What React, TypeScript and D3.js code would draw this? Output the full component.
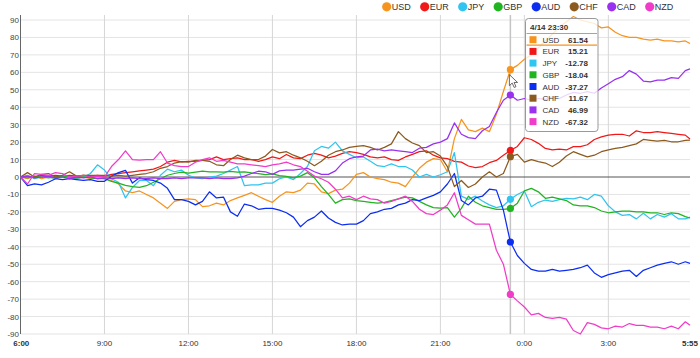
import React, { useMemo } from 'react';
import * as d3 from 'd3';

const currencies = ['USD', 'EUR', 'JPY', 'GBP', 'AUD', 'CHF', 'CAD', 'NZD'];
const colors = ['#f7941d', '#f01818', '#30c4f0', '#20b420', '#0c2ef0', '#8c5a1e', '#9a30f0', '#f03cc8'];

const usd = [
  0, -1, 0.5, -1, 0, -1, 0.5, -0.5, -1, 0, -1, -0.5, -1,
  -2, -4, -8, -9, -8, -10, -12, -15, -18, -14, -13, -12.5,
  -13, -17, -16.5, -15, -16, -13.5, -12, -10.5, -9, -11, -13, -14.5,
  -11, -8.5, -9, -7.5, -3.5, -4, -8.5, -9.5, -7.5, -7, -3.5, 1.5,
  2.5, 0, -1, -1.5, -3, -3.5, -5.5, 0, 5, 8.5, 10.5, 10,
  3, 22, 33, 27, 26, 28, 26, 36, 49, 61.54, 64, 67.5,
  70, 74, 78, 82, 86, 89, 92, 90, 89, 88, 85.5, 86,
  83, 81, 80, 80, 79, 78.5, 79, 78, 78, 77.5, 78, 76.5,
];
const eur = [
  0, 0.5, 0, 1, 0.5, 1, 0.5, 1, 0.5, 1, 0.5, 1, 0.5,
  1.5, 2, 2.5, 3, 3.5, 4, 4.5, 6, 8.5, 9.5, 8.7, 9,
  9, 9.5, 10, 11.5, 10, 10.5, 11, 10, 10, 9, 10, 11.5,
  10.5, 12.9, 11, 10.5, 12.5, 13.5, 12.5, 11, 12, 13.5, 14.5, 14,
  13, 11.5, 11, 11.5, 10, 9.5, 11.5, 13, 14.5, 15, 12.5, 11,
  10.5, 9, 8.5, 6.3, 5.4, 6, 8.2, 9.5, 12.5, 15.21, 17.5, 22.5,
  21.5, 19.3, 16.4, 15.5, 16, 15.5, 17.4, 17.4, 18.5, 21.5, 23, 24,
  24.5, 24.5, 23.5, 26.5, 25.5, 25.5, 26, 25.5, 25, 24.5, 24, 21.8,
];
const jpy = [
  0, 1, -1, 0, 0, -1, 1, 0, -1, 0, 2, 7, 4,
  -1, -3, -12, -6, -2, -2, -5, 1, 4.5, 3, 4, 1,
  -0.5, -1, 0, 0.5, 2, 4, 6, -5, -4.5, -4.5, -3.5, -3.5,
  -1, 0, -1.5, 2, 6, 15, 17.5, 16.5, 20, 15, 13, 11,
  11.5, 9, 6.5, 6, 7.5, 6, 6, 4, 0, 1.5, 0, 1.3,
  3, 14, -11, -12.8, -11, -13.8, -16, -17.6, -16.5, -12.78, -10, -8,
  -17, -14.5, -13.2, -14, -13, -12.2, -12.5, -11.5, -13, -10, -11, -16.5,
  -20, -22, -21.5, -24, -20.8, -24, -21.5, -23, -21, -24, -24, -23,
];
const gbp = [
  0, -0.5, 0.5, 0, -0.5, 0, 0.5, 0, -0.5, 0, -0.5, -1, -1,
  -2.5, -3.5, -4.8, -5.5, -6, -5, -3, -1, 1, 2, 2.8, 2.2,
  2.8, 3.3, 3, 3, 2.8, 3.2, 2.8, 3, 2.3, 2, 1.3, 1.8,
  0.8, 0.4, -0.5, 0.5, 2.5, -0.5, -5.5, -10, -15, -13, -12.5, -13.5,
  -14, -14.5, -15, -14.5, -13.5, -12.5, -11.5, -12, -14, -16, -17.6, -17.9,
  -17.5, -23, -18, -11, -14.5, -16.5, -17.5, -18.5, -18.5, -18.04, -15, -8,
  -6.5, -8.5, -12.2, -11.5, -12.5, -13.5, -16, -16.5, -16.5, -17.5, -19.5, -20.5,
  -20, -19.5, -19.5, -20, -20, -20.5, -20.5, -21.5, -20.5, -21, -22.7, -23.5,
];
const aud = [
  0, -5, -4, -4.5, -3, -1, -1.5, -1, -1.5, -2, -1.5, -2.5, -2.5,
  0.5, 2.5, 3.8, -3.5, -0.5, -1.5, -2, -3.5, -6.5, -13, -13, -14,
  -16, -14, -8.5, -12, -11.5, -20, -22.5, -15.5, -16.5, -18.5, -18, -18,
  -19, -20.5, -23, -28.5, -25, -23, -19.5, -23.5, -26, -27.5, -27, -27,
  -25, -21, -20, -18.5, -18, -16, -15, -13, -13.5, -12, -10.5, -8.5,
  -4, 2, -13.5, -16, -12, -11, -7, -7.5, -19, -37.27, -45, -49.5,
  -53, -54, -54, -53, -54, -53.5, -53, -52, -50.5, -55, -57.5, -56,
  -55, -54, -53.5, -57, -53.5, -52, -50.5, -49.5, -48.6, -50, -48.6, -49.5,
];
const chf = [
  0, 2.5, 0, 1.5, 2, 0, 1, 3, 0.5, 1, 1, 1, 1,
  0.5, 1, 0.5, 1, 1.5, 2, 3, 5, 6, 8, 8.8, 8.5,
  9.5, 9.5, 9, 7, 6.5, 10, 12.5, 11, 10, 10, 12, 15.8,
  13.8, 14.5, 12.5, 11, 9, 6.5, 9, 12.5, 14.5, 15.5, 17, 17.5,
  18, 17, 15.5, 17, 19, 26, 22, 19.5, 18, 14, 14.5, 12,
  6, -5.5, -2, -6, -4, 0, 3, 0, 2, 11.67, 13, 8.5,
  10, 8.8, 8, 6, 8.5, 12, 14.5, 13, 11.5, 12.5, 14.5, 15.5,
  16.4, 17, 18, 19, 21.5, 21, 20.5, 21, 20.2, 20.2, 21, 21.2,
];
const cad = [
  0, 0.5, -0.5, 0, 0.5, -0.5, 0, -1, 0, -0.5, 0, -1, -0.5,
  -1, -0.5, -1, -0.5, -1, -1, -0.5, -1, -1, -0.5, -1, -0.5,
  -0.5, -0.5, -1, -0.5, -1, -1, -0.5, 0.5, 2, 3.3, 3, 1.5,
  3.5, 4, 4, 4.5, 5, 3, 1.5, 1.5, 3.5, 8, 10.5, 11.5,
  12, 15.5, 16, 15, 15.5, 15, 14.5, 14, 16.5, 17, 19, 20,
  22, 31, 24.5, 22.6, 22, 26.5, 29, 37, 44, 46.99, 44, 45,
  44, 45, 44.5, 46, 45, 47, 48.5, 48, 49, 48, 51, 53.5,
  56, 57.5, 61, 59, 55, 54.5, 55.5, 55.5, 57, 56.5, 61, 62,
];
const nzd = [
  0, -4, 2, 1.5, 1, 2.5, 2, 0, 0.5, 1, 0, 0.5, 0,
  6, 10, 15, 10, 9.7, 10, 10, 14.5, 8, 6.5, 6, 6,
  8.5, 10, 11, 9, 9.5, 8.5, 7.5, 7.5, 7, 6.5, 6, 7,
  7.5, 8.5, 7, 6, 3.3, 0.5, -1, -3, -7, -12, -11, -13,
  -11, -12.5, -13, -15, -14, -12.5, -11, -14, -18.5, -21, -21.5, -19,
  -16, -9, -22, -24.5, -27, -27, -27, -42, -50, -67.32, -71, -74.5,
  -79, -78.2, -80.5, -81, -80.5, -81.5, -88, -90, -83.5, -84.5, -86.5, -87,
  -85.5, -86, -84, -85, -85, -86, -86, -87, -85.5, -87, -83, -85,
];
const seriesValues = [usd, eur, jpy, gbp, aud, chf, cad, nzd];

// hours since 6:00, sampled every 15 minutes, last sample at 5:55
const times = d3.range(96).map((i) => i * 0.25).concat([23 + 55 / 60]);

const yTicks = [-90, -80, -70, -60, -50, -40, -30, -20, -10, 0, 10, 20, 30, 40, 50, 60, 70, 80, 90];
const xTickHours = [0, 3, 6, 9, 12, 15, 18, 21, 23 + 55 / 60];
const xTickLabels = ['6:00', '9:00', '12:00', '15:00', '18:00', '21:00', '0:00', '3:00', '5:55'];

const tooltipTitle = '4/14 23:30';
const tooltipHour = 17.5;
const tooltipValues = ['61.54', '15.21', '-12.78', '-18.04', '-37.27', '11.67', '46.99', '-67.32'];
const highlighted = 0;

const W = 700;
const H = 358;
const FONT = '"Liberation Sans", Arial, Helvetica, sans-serif';

function measure(text: string, font: string): number {
  try {
    const c = document.createElement('canvas').getContext('2d');
    if (c) {
      c.font = font;
      return c.measureText(text).width;
    }
  } catch (e) {}
  return text.length * 6.3;
}

export default function App() {
  const x = d3.scaleLinear().domain([0, 23 + 55 / 60]).range([20.5, 690]);
  const y = d3.scaleLinear().domain([-90, 90]).range([334, 20]);
  const plotTop = 15;
  const plotLeft = x(0);
  const plotRight = x(23 + 55 / 60);

  const line = d3
    .line<number>()
    .x((_, i) => x(times[i]))
    .y((d) => y(d));

  const idx = times.indexOf(tooltipHour);

  const legend = useMemo(() => {
    const font = `9px ${FONT}`;
    let cx = 386.7;
    return currencies.map((c) => {
      const w = measure(c, font);
      const item = { cx, tx: cx + 5, label: c };
      cx = cx + 5 + w + 14;
      return item;
    });
  }, []);

  const tipX = 525.5;
  const tipY = 18.5;
  const tipW = 72.5;
  const tipH = 113;
  const rowY0 = 39.7;
  const rowStep = 11.7;

  const cross = x(tooltipHour);

  return (
    <svg
      width={W}
      height={H}
      style={{ position: 'fixed', left: 0, top: 0, background: '#fff' }}
      fontFamily={FONT}
    >
      <rect x={0} y={0} width={W} height={H} fill="#fff" />
      {/* horizontal grid */}
      {yTicks
        .filter((t) => t !== 0)
        .map((t) => (
          <line key={'hg' + t} x1={plotLeft} x2={plotRight} y1={y(t)} y2={y(t)} stroke="#e4e4e4" strokeWidth={1} />
        ))}
      {/* vertical grid */}
      {xTickHours.slice(1, -1).map((h) => (
        <line key={'vg' + h} x1={x(h)} x2={x(h)} y1={plotTop} y2={y(-90)} stroke="#d6d6d6" strokeWidth={1} />
      ))}
      {/* crosshair */}
      <line x1={cross} x2={cross} y1={plotTop} y2={y(-90)} stroke="#c4c4c4" strokeWidth={1.5} />
      {/* zero line */}
      <line x1={plotLeft} x2={plotRight} y1={y(0)} y2={y(0)} stroke="#555" strokeWidth={1} />
      {/* left axis */}
      <line x1={plotLeft} x2={plotLeft} y1={plotTop} y2={y(-90)} stroke="#666" strokeWidth={1} />

      {/* series */}
      {seriesValues.map((vals, si) => (
        <path key={'s' + si} d={line(vals) || ''} fill="none" stroke={colors[si]} strokeWidth={1.25} strokeLinejoin="round" />
      ))}
      {/* markers */}
      {seriesValues.map((vals, si) => (
        <circle key={'m' + si} cx={x(times[idx])} cy={y(vals[idx])} r={3.6} fill={colors[si]} />
      ))}

      {/* y labels */}
      {yTicks.map((t) => (
        <text key={'yl' + t} x={19} y={y(t) + 3} fontSize={8} fill="#444" textAnchor="end">
          {t}
        </text>
      ))}
      {/* x labels */}
      {xTickHours.map((h, i) => {
        const last = i === xTickHours.length - 1;
        const first = i === 0;
        return (
          <text
            key={'xl' + i}
            x={last ? x(h) + 8 : x(h) + (first ? 0.8 : 0)}
            y={345.5}
            fontSize={8}
            fill="#333"
            fontWeight={first || last ? 'bold' : 'normal'}
            textAnchor={last ? 'end' : 'middle'}
          >
            {xTickLabels[i]}
          </text>
        );
      })}

      {/* legend */}
      {legend.map((l, i) => (
        <g key={'lg' + i}>
          <circle cx={l.cx} cy={6.8} r={4.6} fill={colors[i]} />
          <text x={l.tx} y={10} fontSize={9} fill="#333">
            {l.label}
          </text>
        </g>
      ))}

      {/* tooltip */}
      <rect x={tipX} y={tipY} width={tipW} height={tipH} rx={3} ry={3} fill="#fff" fillOpacity={0.8} stroke="#999" strokeWidth={1} />
      <text x={tipX + 4.5} y={29.5} fontSize={8} fontWeight="bold" fill="#333">
        {tooltipTitle}
      </text>
      <line x1={tipX + 1} x2={tipX + tipW - 1} y1={rowY0 + highlighted * rowStep - 6.2} y2={rowY0 + highlighted * rowStep - 6.2} stroke={colors[highlighted]} strokeWidth={1.2} />
      <line x1={tipX + 1} x2={tipX + tipW - 1} y1={rowY0 + highlighted * rowStep + 5.5} y2={rowY0 + highlighted * rowStep + 5.5} stroke={colors[highlighted]} strokeWidth={1.2} />
      {currencies.map((c, i) => {
        const cy = rowY0 + i * rowStep;
        return (
          <g key={'tt' + i}>
            <rect x={tipX + 4} y={cy - 3.5} width={7} height={7} fill={colors[i]} />
            <text x={tipX + 17} y={cy + 3} fontSize={8} fill="#333">
              {c}
            </text>
            <text x={tipX + 62.5} y={cy + 3} fontSize={8} fontWeight="bold" fill="#333" textAnchor="end">
              {tooltipValues[i]}
            </text>
          </g>
        );
      })}

      {/* mouse cursor */}
      <path
        transform={`translate(${cross - 1},${y(seriesValues[0][idx]) + 5})`}
        d="M0,0 L0,11 L2.8,8.4 L4.8,12.8 L6.6,12 L4.7,7.8 L8.2,7.8 Z"
        fill="#fff"
        stroke="#444"
        strokeWidth={0.8}
      />
    </svg>
  );
}
